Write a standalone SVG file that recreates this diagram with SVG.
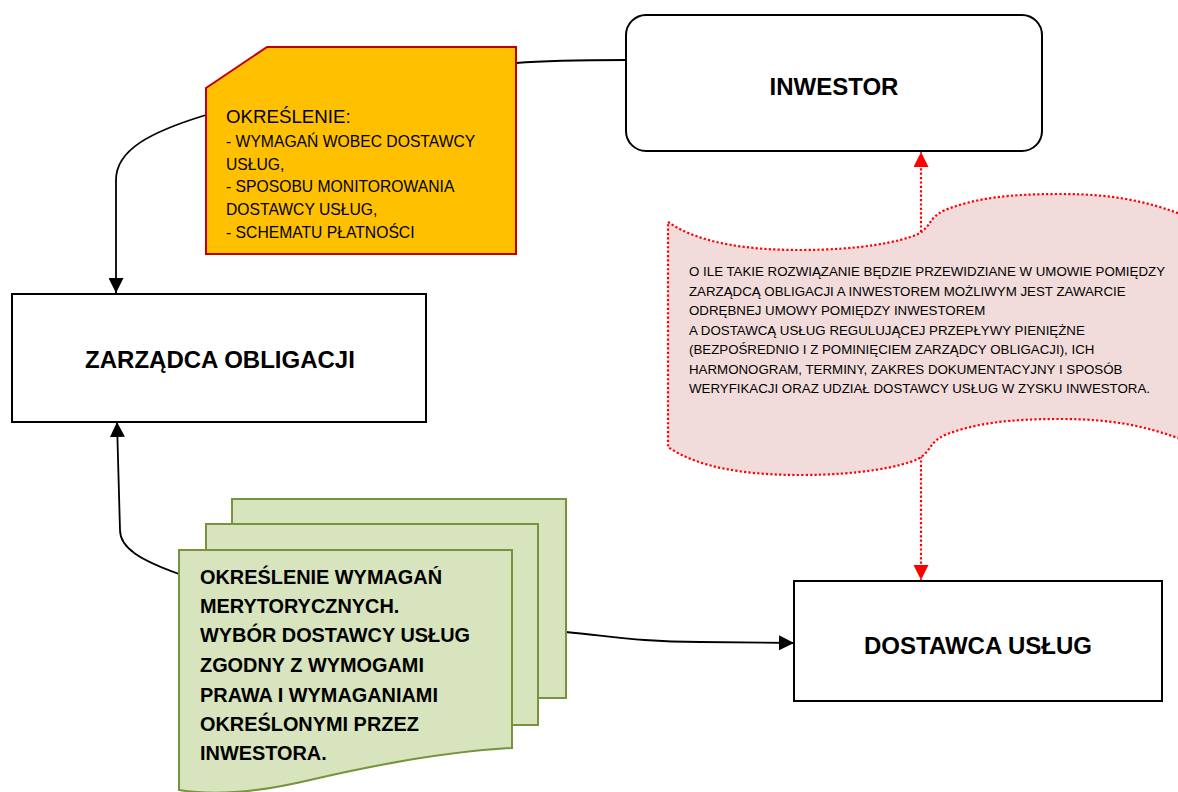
<svg xmlns="http://www.w3.org/2000/svg" width="1178" height="792" viewBox="0 0 1178 792">
<style>
text{font-family:"Liberation Sans",Arial,sans-serif;fill:#000}
.box{fill:#fff;stroke:#000;stroke-width:2}
.title{font-size:24px;font-weight:bold;text-anchor:middle}
.yel{fill:#FFC000;stroke:#C00000;stroke-width:2}
.yt{font-size:15.7px}
.pink{fill:#F2DCDB;stroke:#FF0000;stroke-width:2.2;stroke-dasharray:2.2 2.2}
.pt{font-size:13.3px}
.doc{fill:#D7E4BD;stroke:#77933C;stroke-width:2}
.gt{font-size:19.9px;font-weight:bold}
.con{fill:none;stroke:#000;stroke-width:1.8}
.red{fill:none;stroke:#FF0000;stroke-width:2.2;stroke-dasharray:2.2 2.2}
</style>
<defs>
<marker id="ab" markerUnits="userSpaceOnUse" markerWidth="15" markerHeight="15" refX="15" refY="7.5" orient="auto"><path d="M0,0 L15,7.5 L0,15 Z" fill="#000"/></marker>
<marker id="ar" markerUnits="userSpaceOnUse" markerWidth="16" markerHeight="16" refX="15" refY="7.5" orient="auto"><path d="M0,0 L15,7.5 L0,15 Z" fill="#FF0000"/></marker>
</defs>

<g id="connectors">
<path class="con" d="M626,60 C590,60 540,61 516,63"/>
<path class="con" d="M206,115 C150,132 116,150 116,180 L116,293" marker-end="url(#ab)"/>
<path class="con" d="M179,574 C140,560 120,548 120,530 L117,422" marker-end="url(#ab)"/>
<path class="con" d="M566,632 C610,636 640,642 700,642 L794,643" marker-end="url(#ab)"/>
<path class="red" d="M921,232 L921,152" marker-end="url(#ar)"/>
<path class="red" d="M921,456 L921,580" marker-end="url(#ar)"/>
</g>

<g id="inwestor">
<rect class="box" x="626" y="15" width="416" height="136" rx="20" ry="20"/>
<text class="title" x="834" y="95">INWESTOR</text>
</g>

<g id="zarzadca">
<rect class="box" x="12" y="294" width="414" height="128"/>
<text class="title" x="220" y="368">ZARZĄDCA OBLIGACJI</text>
</g>

<g id="dostawca">
<rect class="box" x="794" y="581" width="368" height="120"/>
<text class="title" x="978" y="654">DOSTAWCA USŁUG</text>
</g>

<g id="okreslenie">
<path class="yel" d="M267,47 L516,47 L516,254 L206,254 L206,88 Z"/>
<text x="226" y="123" style="font-size:18.7px">OKREŚLENIE:</text>
<text class="yt" x="226" y="147">- WYMAGAŃ WOBEC DOSTAWCY</text>
<text class="yt" x="226" y="169.5">USŁUG,</text>
<text class="yt" x="226" y="192">- SPOSOBU MONITOROWANIA</text>
<text class="yt" x="226" y="215">DOSTAWCY USŁUG,</text>
<text class="yt" x="226" y="237.5">- SCHEMATU PŁATNOŚCI</text>
</g>

<g id="umowa">
<path class="pink" d="M668,222 C700,244 750,250 800,250 C860,250 900,242 918,234 C932,226 928,218 945,210 C975,198 1010,194 1060,194 C1110,194 1150,200 1200,222 L1200,447 C1150,425 1110,419 1060,419 C1010,419 975,423 945,435 C928,443 932,451 918,459 C900,467 860,475 800,475 C750,475 700,469 668,447 Z"/>
<text class="pt" x="689" y="276">O ILE TAKIE ROZWIĄZANIE BĘDZIE PRZEWIDZIANE W UMOWIE POMIĘDZY</text>
<text class="pt" x="689" y="295.5">ZARZĄDCĄ OBLIGACJI A INWESTOREM MOŻLIWYM JEST ZAWARCIE</text>
<text class="pt" x="689" y="315">ODRĘBNEJ UMOWY POMIĘDZY INWESTOREM</text>
<text class="pt" x="689" y="334.5">A DOSTAWCĄ USŁUG REGULUJĄCEJ PRZEPŁYWY PIENIĘŻNE</text>
<text class="pt" x="689" y="354">(BEZPOŚREDNIO I Z POMINIĘCIEM ZARZĄDCY OBLIGACJI), ICH</text>
<text class="pt" x="689" y="373.5">HARMONOGRAM, TERMINY, ZAKRES DOKUMENTACYJNY I SPOSÓB</text>
<text class="pt" x="689" y="393">WERYFIKACJI ORAZ UDZIAŁ DOSTAWCY USŁUG W ZYSKU INWESTORA.</text>
</g>

<g id="wymagania">
<rect class="doc" x="232" y="499" width="334" height="199"/>
<rect class="doc" x="206" y="524" width="332" height="201"/>
<path class="doc" d="M179,550 L512,550 L512,748 C440,752 370,766 310,780 C260,792 215,796 179,790 Z"/>
<text class="gt" x="200" y="584">OKREŚLENIE WYMAGAŃ</text>
<text class="gt" x="200" y="613">MERYTORYCZNYCH.</text>
<text class="gt" x="200" y="642">WYBÓR DOSTAWCY USŁUG</text>
<text class="gt" x="200" y="672">ZGODNY Z WYMOGAMI</text>
<text class="gt" x="200" y="702">PRAWA I WYMAGANIAMI</text>
<text class="gt" x="200" y="731">OKREŚLONYMI PRZEZ</text>
<text class="gt" x="200" y="760">INWESTORA.</text>
</g>
</svg>
